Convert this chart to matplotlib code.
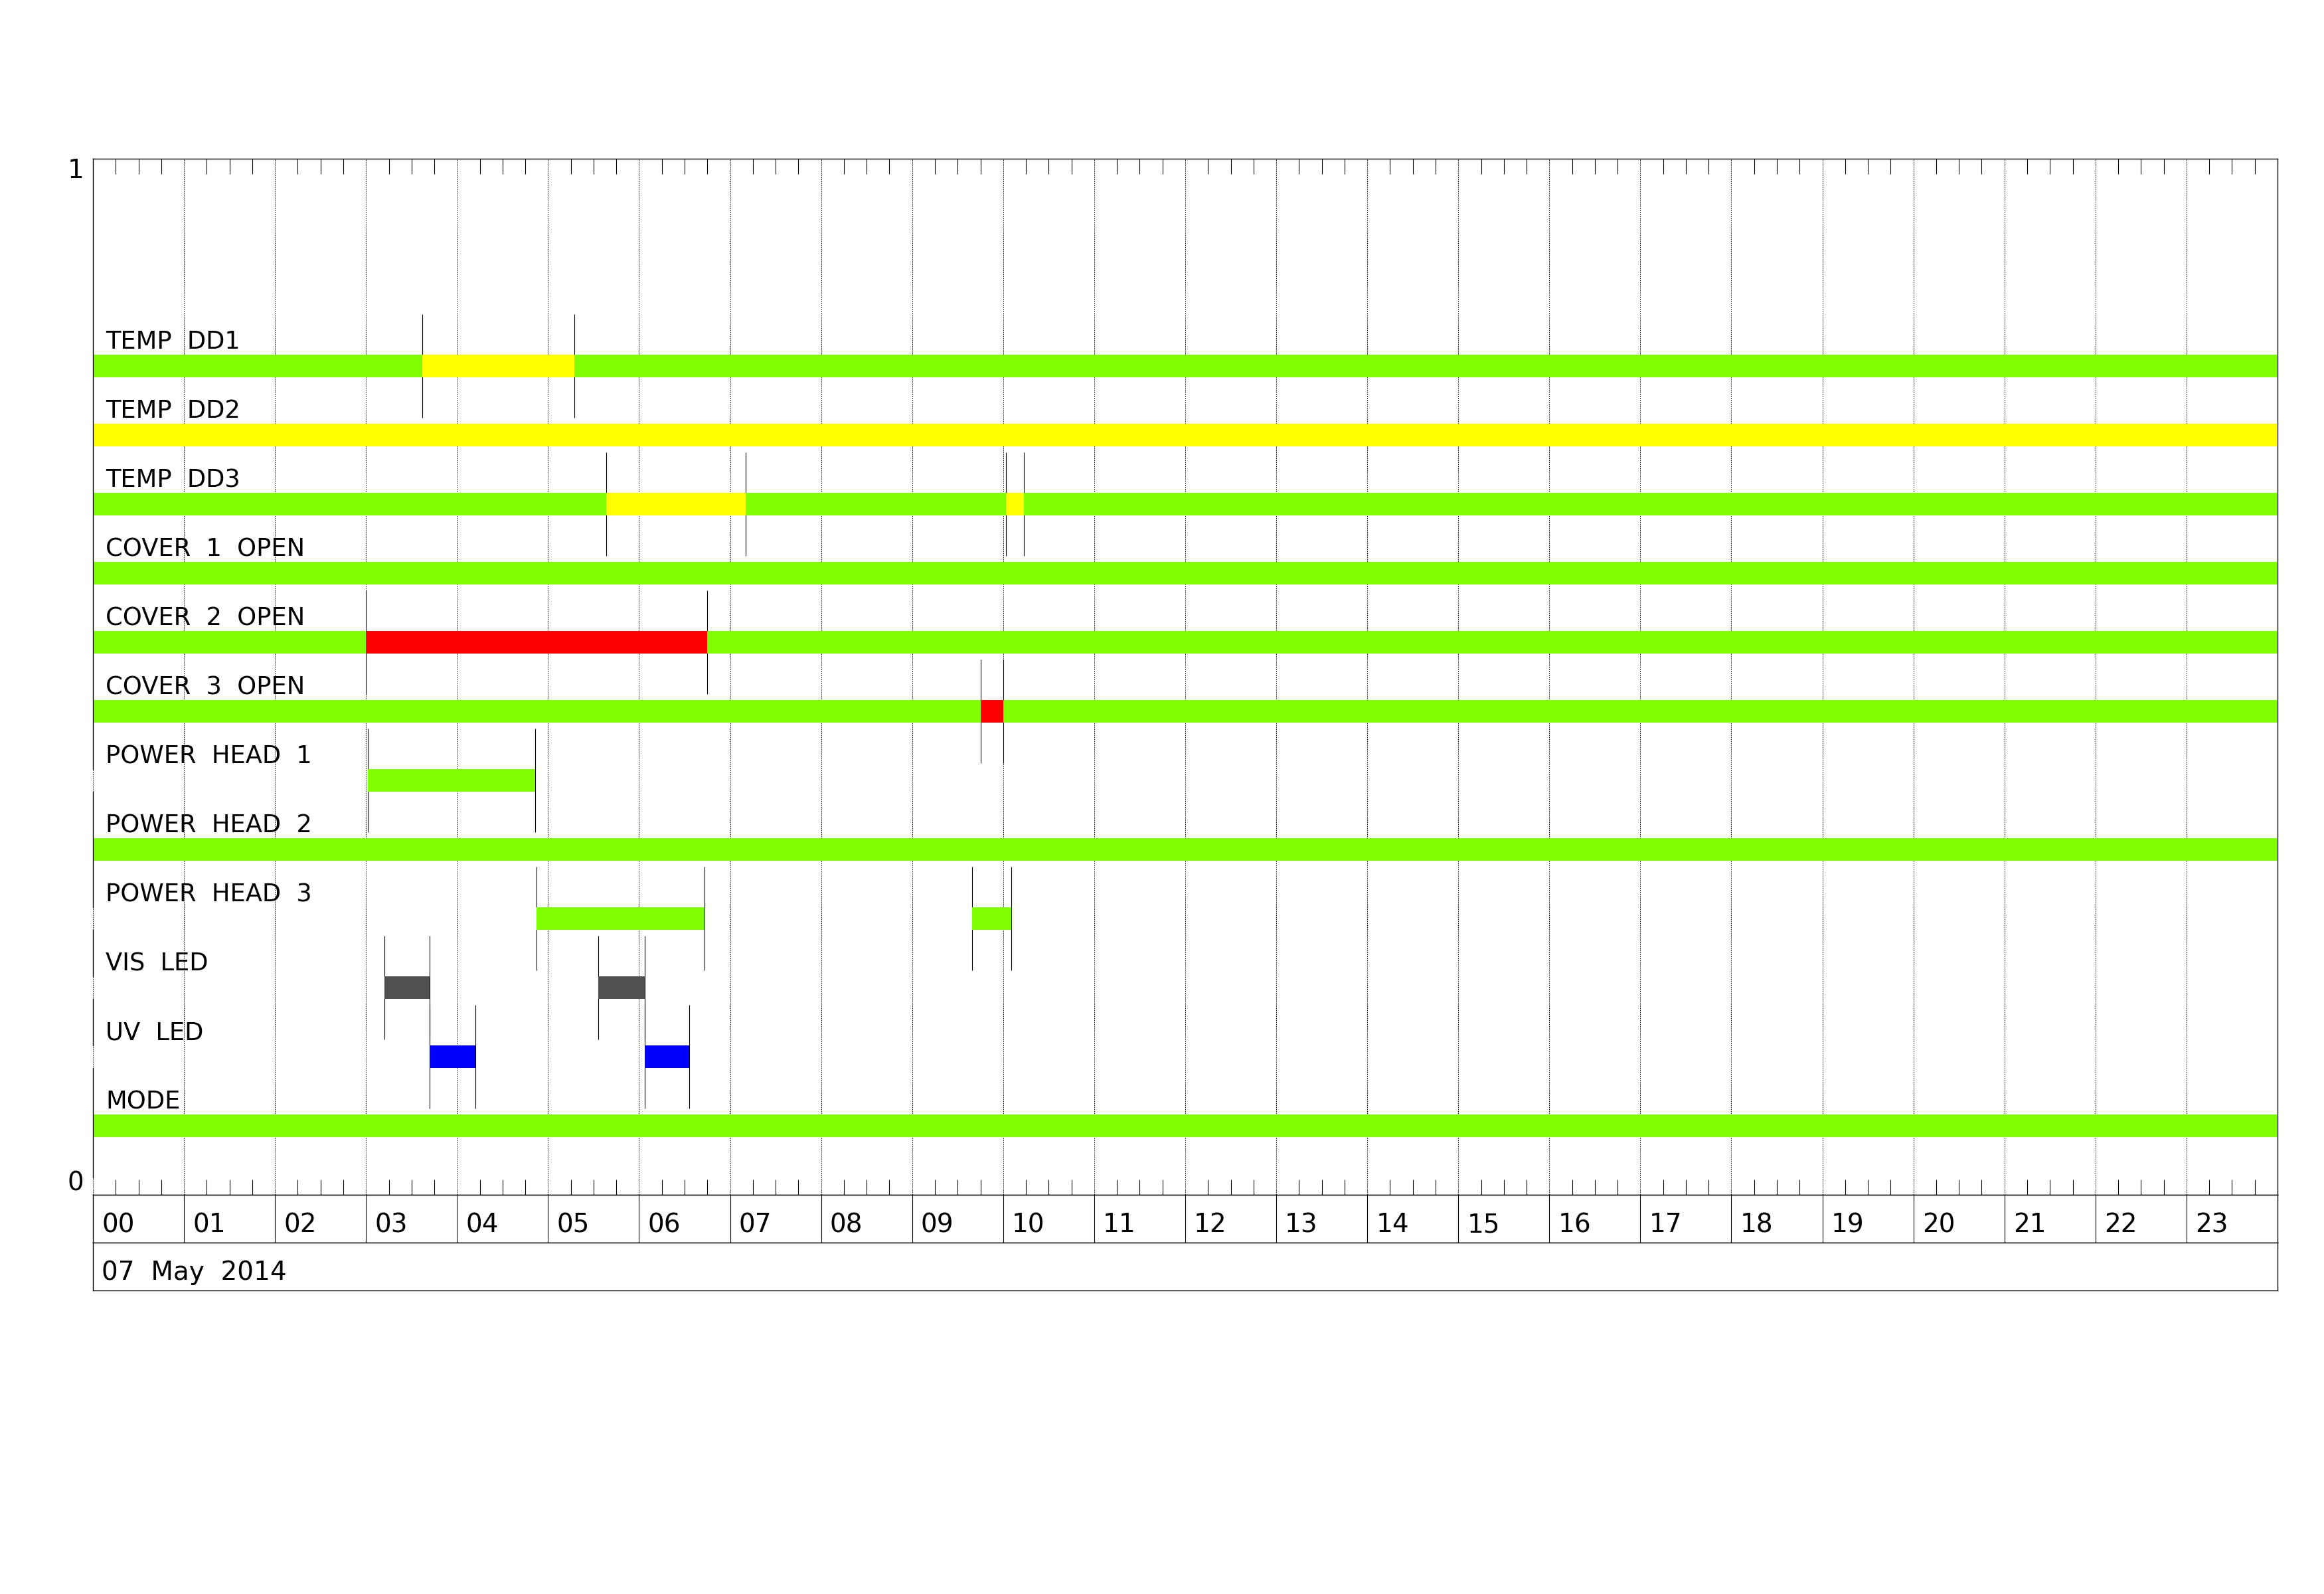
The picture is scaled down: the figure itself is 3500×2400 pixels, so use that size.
import matplotlib
matplotlib.use('Agg')
import matplotlib.pyplot as plt
from matplotlib.ticker import MultipleLocator

# status rows, top to bottom
labels = ["TEMP  DD1", "TEMP  DD2", "TEMP  DD3", "COVER  1  OPEN", "COVER  2  OPEN",
          "COVER  3  OPEN", "POWER  HEAD  1", "POWER  HEAD  2", "POWER  HEAD  3",
          "VIS  LED", "UV  LED", "MODE"]

# (start hour, end hour, state) per row
temp_dd1 = [(0.0, 3.62, "ok"), (3.62, 5.29, "warn"), (5.29, 24.0, "ok")]
temp_dd2 = [(0.0, 24.0, "warn")]
temp_dd3 = [(0.0, 5.64, "ok"), (5.64, 7.17, "warn"), (7.17, 10.03, "ok"),
            (10.03, 10.23, "warn"), (10.23, 24.0, "ok")]
cover_1 = [(0.0, 24.0, "ok")]
cover_2 = [(0.0, 3.0, "ok"), (3.0, 6.75, "alarm"), (6.75, 24.0, "ok")]
cover_3 = [(0.0, 9.75, "ok"), (9.75, 10.0, "alarm"), (10.0, 24.0, "ok")]
power_head_1 = [(3.02, 4.86, "ok")]
power_head_2 = [(0.0, 24.0, "ok")]
power_head_3 = [(4.87, 6.72, "ok"), (9.66, 10.09, "ok")]
vis_led = [(3.20, 3.70, "vis"), (5.55, 6.06, "vis")]
uv_led = [(3.70, 4.20, "uv"), (6.06, 6.55, "uv")]
mode = [(0.0, 24.0, "ok")]

segments = [temp_dd1, temp_dd2, temp_dd3, cover_1, cover_2, cover_3,
            power_head_1, power_head_2, power_head_3, vis_led, uv_led, mode]

hour_labels = [f"{h:02d}" for h in range(24)]
date_label = "07  May  2014"

state_colors = {"ok": "#7fff00", "warn": "#ffff00", "alarm": "#ff0000",
                "vis": "#505050", "uv": "#0000ff"}

FS = 26.5
BAR_H = 0.0214
MARK = 0.05

fig = plt.figure(figsize=(35, 24), dpi=100)
L, W = 140 / 3500, 3290 / 3500
ax = fig.add_axes([L, 1 - 1799 / 2400, W, 1560 / 2400])
ax.set_xlim(0, 24)
ax.set_ylim(0, 1)

n = len(labels)
row_y = [(n - i) / 15 for i in range(n)]

gaps = []
for y, lab, segs in zip(row_y, labels, segments):
    for s, e, st in segs:
        ax.barh(y, e - s, left=s, height=BAR_H, color=state_colors[st],
                linewidth=0, zorder=3)
    edges = sorted({v for s, e, _ in segs for v in (s, e) if 0 < v < 24})
    if edges:
        ax.vlines(edges, y - MARK, y + MARK, color='black', linewidth=0.8, zorder=2)
    if segs[0][0] > 0:
        gaps.append((y - BAR_H / 2, y + BAR_H / 2))
    ax.annotate(lab, xy=(0, y), xytext=(13.7, 18.5), textcoords='offset points',
                fontsize=FS, va='baseline', ha='left')

# left edge line, broken where a row starts empty
top = 1.0
for g0, g1 in sorted(gaps, reverse=True):
    ax.plot([0, 0], [g1, top], color='black', linewidth=1.0, clip_on=False, zorder=4)
    top = g0
ax.plot([0, 0], [1 / 60, top], color='black', linewidth=1.0, clip_on=False, zorder=4)

ax.spines['left'].set_visible(False)
for sp in ('top', 'right', 'bottom'):
    ax.spines[sp].set_linewidth(1.0)

ax.set_xticks(range(25))
ax.xaxis.set_minor_locator(MultipleLocator(0.25))
ax.tick_params(which='major', length=0, labelbottom=False)
ax.tick_params(which='minor', direction='in', length=16.5, width=0.8,
               top=True, bottom=True)
ax.set_yticks([])
ax.set_axisbelow(True)
ax.grid(True, which='major', axis='x', color='black',
        linestyle=(0, (1.5, 1.5)), linewidth=0.7)

ax.annotate("1", xy=(0, 1), xytext=(-10, 1), textcoords='offset points',
            fontsize=28, ha='right', va='top')
ax.annotate("0", xy=(0, 0), xytext=(-10, -1), textcoords='offset points',
            fontsize=28, ha='right', va='bottom')

# hour label strip
hx = fig.add_axes([L, 1 - 1871 / 2400, W, 72 / 2400])
hx.set_xlim(0, 24)
hx.set_ylim(0, 1)
hx.set_xticks([])
hx.set_yticks([])
hx.vlines(range(1, 24), 0, 1, color='black', linewidth=0.8)
for h, t in enumerate(hour_labels):
    hx.annotate(t, xy=(h, 0.222), xytext=(9.4, 0), textcoords='offset points',
                fontsize=28, va='baseline', ha='left')
for sp in hx.spines.values():
    sp.set_linewidth(1.0)

# date strip
dx = fig.add_axes([L, 1 - 1943 / 2400, W, 72 / 2400])
dx.set_xlim(0, 24)
dx.set_ylim(0, 1)
dx.set_xticks([])
dx.set_yticks([])
dx.annotate(date_label, xy=(0, 0.222), xytext=(9.4, 0), textcoords='offset points',
            fontsize=28, va='baseline', ha='left')
for sp in dx.spines.values():
    sp.set_linewidth(1.0)

fig.savefig("out.png", dpi=100)
plt.close(fig)
